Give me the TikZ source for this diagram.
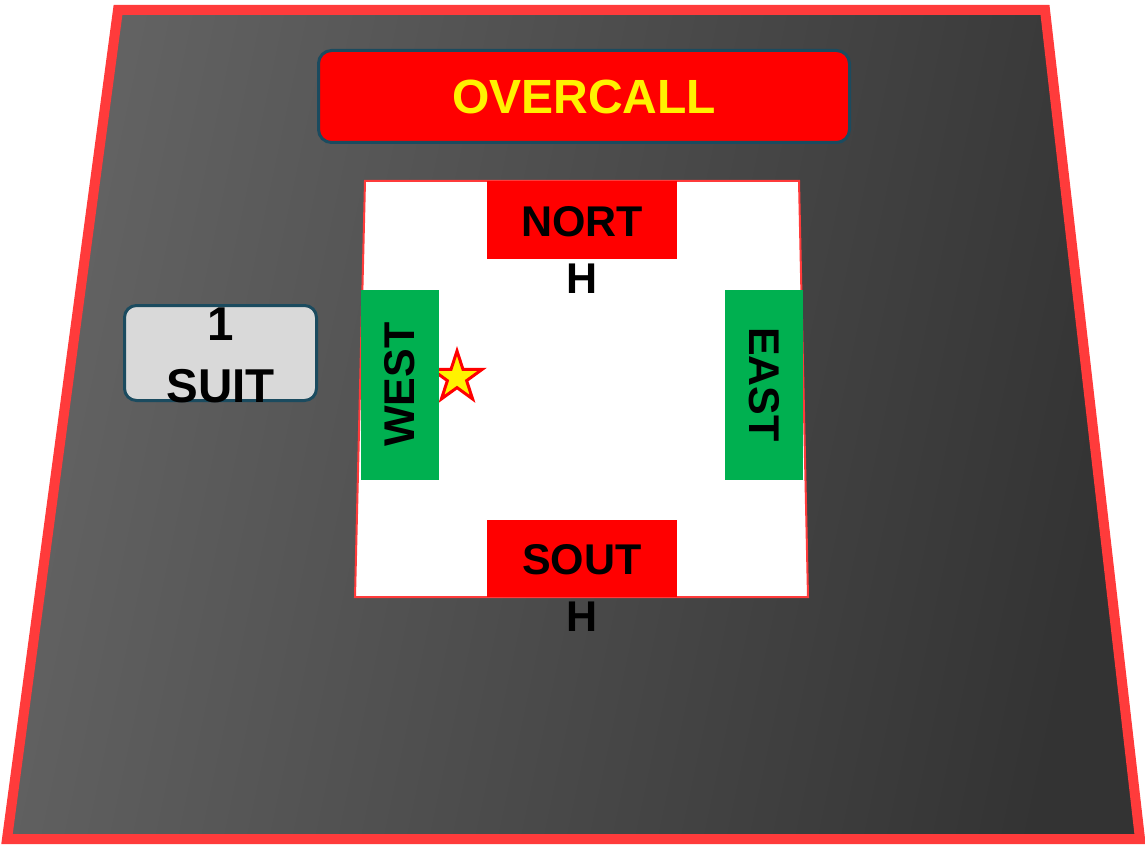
\documentclass[tikz,border=0pt]{standalone}
\usepackage{fontspec}
\setmainfont{Liberation Sans}
\usetikzlibrary{shapes.geometric,positioning}
\definecolor{tablered}{HTML}{FF3B3B}
\definecolor{seatred}{HTML}{FF0000}
\definecolor{seatgreen}{HTML}{00B050}
\definecolor{boxedge}{HTML}{1B4B5F}
\definecolor{boxgray}{HTML}{D9D9D9}
\definecolor{feltlight}{HTML}{636363}
\definecolor{feltdark}{HTML}{333333}

\begin{document}
\begin{tikzpicture}[x=1pt, y=-1pt,
  seat/.style={fill=#1, draw=none, inner sep=0pt, minimum width=190pt, minimum height=78pt,
    font=\fontsize{43}{57}\selectfont\bfseries},
  callbox/.style={draw=boxedge, line width=3pt, rounded corners=13pt, inner sep=0pt},
  lbl/.style={inner sep=0pt, align=center, font=\bfseries}
]
  \useasboundingbox (0,0) rectangle (1145,845);

  % table
  \draw[draw=tablered, line width=10pt, left color=feltlight, right color=feltdark, shading angle=78]
    (118,10) -- (1045,10) -- (1140,839) -- (7,839) -- cycle;

  \node[callbox, fill=seatred, minimum width=531pt, minimum height=92pt] (bid) at (584,96.5) {};
  \node[lbl, text=yellow, font=\fontsize{48}{58}\selectfont\bfseries] (bidlbl) at (bid.center) {OVERCALL};

  \node[callbox, fill=boxgray, rounded corners=12pt, minimum width=192pt, minimum height=95pt] (suit) at (220.5,353) {};
  \node[lbl, font=\fontsize{47.5}{62}\selectfont\bfseries] (suitlbl) at ([yshift=-2pt]suit.center) {1\\SUIT};

  % card area
  \draw[draw=tablered, line width=2pt, fill=white]
    (365,181) -- (799,181) -- (808,597) -- (355,597) -- cycle;

  \node[star, star points=5, star point ratio=2.618, minimum size=53pt, inner sep=0pt,
    fill=yellow, draw=seatred, line width=3pt] (lead) at (457,377.5) {};

  \node[seat=seatred] (north) at (582,220) {};
  \node[seat=seatred, minimum height=77pt] (south) at (582,558.5) {};
  \node[seat=seatgreen, rotate=90] (west) at (400,384.5) {WEST};
  \node[seat=seatgreen, rotate=-90] (east) at (764,384.5) {EAST};

  \node[lbl, anchor=base, font=\fontsize{43}{57}\selectfont\bfseries] (northlbl) at (582,293) {NORT\\H};
  \node[lbl, anchor=base, font=\fontsize{43}{57}\selectfont\bfseries] (southlbl) at (582,631) {SOUT\\H};
\end{tikzpicture}
\end{document}
